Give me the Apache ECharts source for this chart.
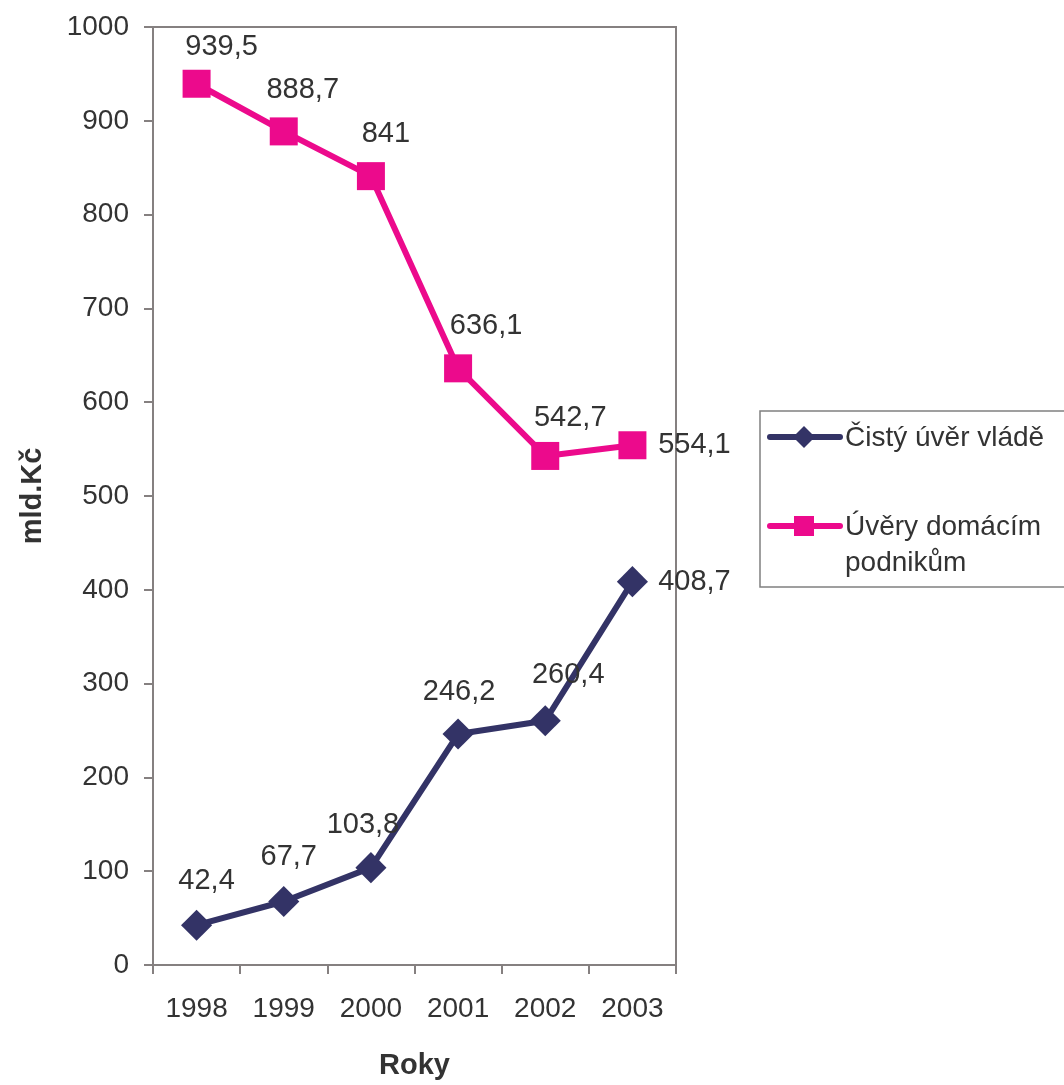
<!DOCTYPE html>
<html>
<head>
<meta charset="utf-8">
<script src="https://cdn.jsdelivr.net/npm/echarts@6/dist/echarts.min.js"></script>
<style>
html,body{margin:0;padding:0;background:#fff;}
#chart{width:1064px;height:1085px;}
</style>
</head>
<body>
<div id="chart"></div>
<script>
const years = ['1998', '1999', '2000', '2001', '2002', '2003'];
const cistyUverVlade = [42.4, 67.7, 103.8, 246.2, 260.4, 408.7];
const uveryPodnikum = [939.5, 888.7, 841, 636.1, 542.7, 554.1];
const seriesNames = ['Čistý úvěr vládě', 'Úvěry domácím\npodnikům'];
const yTicks = { min: 0, max: 1000, interval: 100 };

// label offsets (styling only)
const navyOffsets = [[10,-44],[5,-44],[-8,-43],[1,-42],[23,-46],[62,0]];
const pinkOffsets = [[25,-37],[19,-41],[15,-42],[28,-42],[25,-38],[62,0]];

const NAVY = '#333366';
const PINK = '#EC0A8C';
const TXT = '#333333';
const AX = '#858080';
const FONT = '"Liberation Sans", Arial, sans-serif';

function fmt(v){ return String(v).replace('.', ','); }

function buildData(vals, offsets){
  return vals.map((v, i) => ({
    value: v,
    label: {
      show: true,
      position: 'inside',
      offset: offsets[i],
      formatter: fmt(v),
      color: TXT,
      fontSize: 29,
      fontFamily: FONT
    }
  }));
}

// legend drawn as graphic (box, line icons, text)
const legendGraphic = [
  { type: 'rect', shape: { x: 760, y: 411, width: 320, height: 176 },
    style: { fill: '#fff', stroke: '#808080', lineWidth: 1.5 }, z: 10 },
  { type: 'line', shape: { x1: 770, y1: 437, x2: 840, y2: 437 },
    style: { stroke: NAVY, lineWidth: 6, lineCap: 'round' }, z: 11 },
  { type: 'polygon', shape: { points: [[804,426],[815,437],[804,448],[793,437]] },
    style: { fill: NAVY }, z: 12 },
  { type: 'text', style: { x: 845, y: 438, text: seriesNames[0], font: '28px ' + FONT, fill: TXT, verticalAlign: 'middle' }, z: 12 },
  { type: 'line', shape: { x1: 770, y1: 526, x2: 840, y2: 526 },
    style: { stroke: PINK, lineWidth: 6, lineCap: 'round' }, z: 11 },
  { type: 'rect', shape: { x: 794, y: 516, width: 20, height: 20 },
    style: { fill: PINK }, z: 12 },
  { type: 'text', style: { x: 845, y: 509, text: seriesNames[1], font: '28px ' + FONT, fill: TXT, lineHeight: 36, verticalAlign: 'top' }, z: 12 }
];

const chart = echarts.init(document.getElementById('chart'), null, {renderer: 'canvas'});
chart.setOption({
  animation: false,
  backgroundColor: '#fff',
  textStyle: { fontFamily: FONT, color: TXT },
  grid: { left: 153, right: 388, top: 27, bottom: 118, show: true, borderColor: AX, borderWidth: 2, backgroundColor: 'transparent' },
  graphic: legendGraphic,
  xAxis: {
    type: 'category',
    data: years,
    boundaryGap: true,
    name: 'Roky',
    nameLocation: 'middle',
    nameGap: 86,
    nameTextStyle: { fontSize: 29, fontWeight: 'bold', color: TXT, fontFamily: FONT },
    axisLine: { lineStyle: { color: AX, width: 2 } },
    axisTick: { show: true, length: 9, lineStyle: { color: AX, width: 2 }, alignWithLabel: false },
    axisLabel: { fontSize: 28, color: TXT, margin: 30, fontFamily: FONT },
    splitLine: { show: false }
  },
  yAxis: {
    type: 'value',
    min: yTicks.min, max: yTicks.max, interval: yTicks.interval,
    name: 'mld.Kč',
    nameLocation: 'middle',
    nameGap: 106,
    nameRotate: 90,
    nameTextStyle: { fontSize: 29, fontWeight: 'bold', color: TXT, fontFamily: FONT },
    axisLine: { show: true, lineStyle: { color: AX, width: 2 } },
    axisTick: { show: true, length: 9, lineStyle: { color: AX, width: 2 } },
    axisLabel: { fontSize: 28, color: TXT, margin: 24, fontFamily: FONT, formatter: v => String(v) },
    splitLine: { show: false }
  },
  series: [
    {
      name: seriesNames[0],
      type: 'line',
      data: buildData(cistyUverVlade, navyOffsets),
      symbol: 'rect',
      symbolSize: 22,
      symbolRotate: 45,
      lineStyle: { color: NAVY, width: 6 },
      itemStyle: { color: NAVY },
      z: 3
    },
    {
      name: seriesNames[1],
      type: 'line',
      data: buildData(uveryPodnikum, pinkOffsets),
      symbol: 'rect',
      symbolSize: 28,
      lineStyle: { color: PINK, width: 6 },
      itemStyle: { color: PINK },
      z: 3
    }
  ]
});
</script>
</body>
</html>
